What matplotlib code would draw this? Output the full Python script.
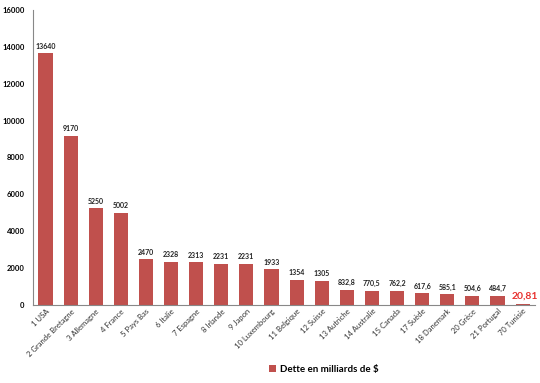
import matplotlib.pyplot as plt

pays = ["1 USA", "2 Grande Bretagne", "3 Allemagne", "4 France", "5 Pays Bas",
        "6 Italie", "7 Espagne", "8 Irlande", "9 Japon", "10 Luxembourg",
        "11 Belgique", "12 Suisse", "13 Autriche", "14 Australie", "15 Canada",
        "17 Suède", "18 Danemark", "20 Grèce", "21 Portugal", "70 Tunisie"]
dette = [13640, 9170, 5250, 5002, 2470, 2328, 2313, 2231, 2231, 1933,
         1354, 1305, 832.8, 770.5, 762.2, 617.6, 585.1, 504.6, 484.7, 20.81]
etiquettes = ["13640", "9170", "5250", "5002", "2470", "2328", "2313", "2231", "2231", "1933",
              "1354", "1305", "832,8", "770,5", "762,2", "617,6", "585,1", "504,6", "484,7", "20,81"]

plt.rcParams['font.family'] = ['Lato', 'DejaVu Sans']
rouge = "#C0504D"

fig = plt.figure(figsize=(5.4, 3.83), dpi=100)
ax = fig.add_axes([0.061, 0.204, 0.93, 0.77])
x = range(len(pays))
ax.bar(x, dette, 0.56, color=rouge, label="Dette en milliards de $")

for i, (v, t) in enumerate(zip(dette, etiquettes)):
    if i == len(dette) - 1:
        # valeur tunisienne mise en évidence
        ax.annotate(t, (i, v), xytext=(2, 3), textcoords='offset points',
                    ha='center', va='bottom', fontsize=7.5, fontweight='bold', color="#E8312F")
    else:
        ax.annotate(t, (i, v), xytext=(0, 2.5), textcoords='offset points',
                    ha='center', va='bottom', fontsize=5, fontweight='bold', color="#222222")

ax.set_xlim(-0.5, 19.5)
ax.set_ylim(0, 16000)
ax.set_yticks(range(0, 16001, 2000))
ax.tick_params(axis='y', length=0, labelsize=5.5, pad=6)
ax.tick_params(axis='x', length=0, labelsize=5.5, pad=2, labelcolor="#333333")
for lab in ax.get_yticklabels():
    lab.set_fontweight('bold')
ax.set_xticks(list(x))
ax.set_xticklabels(pays, rotation=45, ha='right', rotation_mode='anchor')
for s in ['top', 'right']:
    ax.spines[s].set_visible(False)
for s in ['left', 'bottom']:
    ax.spines[s].set_color("#888888")
    ax.spines[s].set_linewidth(0.8)

fig.legend(loc='lower center', bbox_to_anchor=(0.6, 0.0), frameon=False,
           prop={'size': 7, 'weight': 'bold'}, handlelength=0.7, handleheight=0.7,
           handletextpad=0.4)

fig.savefig("out.png", dpi=100)
